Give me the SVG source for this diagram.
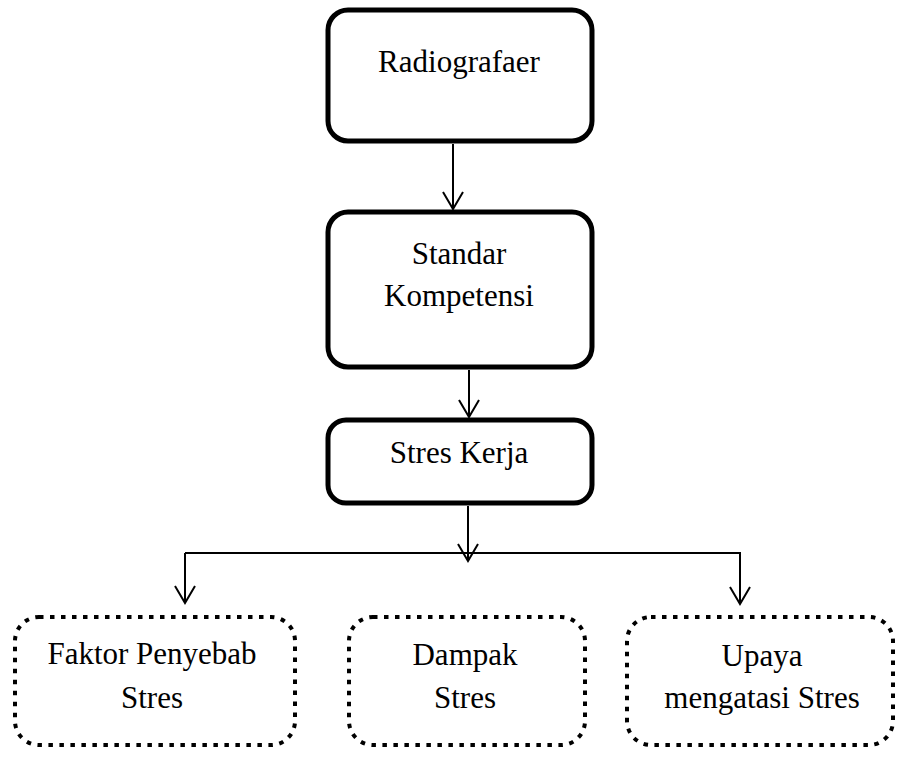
<svg xmlns="http://www.w3.org/2000/svg" width="897" height="757" viewBox="0 0 897 757">
<style>
  .solid { fill: #fff; stroke: #000; stroke-width: 5; }
  .dotted { fill: #fff; stroke: #000; stroke-width: 4; stroke-dasharray: 4.5 6.5; }
  .lbl { font-family: "Liberation Serif", "Times New Roman", serif; font-size: 31px; fill: #000; text-anchor: middle; }
  .conn { fill: none; stroke: #000; stroke-width: 2; }
</style>
<defs>
  <marker id="arr" markerUnits="userSpaceOnUse" viewBox="-20 -12 24 24" markerWidth="24" markerHeight="24" refX="0" refY="0" orient="auto" overflow="visible">
    <path d="M-17,-10 L0,0 L-17,10" fill="none" stroke="#000" stroke-width="2"/>
  </marker>
</defs>
<rect width="897" height="757" fill="#fff"/>
<g id="connectors">
  <path class="conn" d="M453,144 L453,209" marker-end="url(#arr)"/>
  <path class="conn" d="M469,370 L469,417" marker-end="url(#arr)"/>
  <path class="conn" d="M468,506 L468,561" marker-end="url(#arr)"/>
  <path class="conn" d="M185,553 L740,553 L740,604" marker-end="url(#arr)"/>
  <path class="conn" d="M185,553 L185,603" marker-end="url(#arr)"/>
</g>
<g id="radiografaer">
  <rect class="solid" x="328" y="10" width="264" height="131" rx="20"/>
  <text class="lbl" x="459" y="72">Radiografaer</text>
</g>
<g id="standar-kompetensi">
  <rect class="solid" x="328" y="212" width="264" height="155" rx="20"/>
  <text class="lbl" x="459" y="264">Standar</text>
  <text class="lbl" x="459" y="306">Kompetensi</text>
</g>
<g id="stres-kerja">
  <rect class="solid" x="328" y="420" width="264" height="83" rx="18"/>
  <text class="lbl" x="459" y="463">Stres Kerja</text>
</g>
<g id="faktor-penyebab">
  <rect class="dotted" x="15" y="617" width="280" height="128" rx="24"/>
  <text class="lbl" x="152" y="664">Faktor Penyebab</text>
  <text class="lbl" x="152" y="708">Stres</text>
</g>
<g id="dampak">
  <rect class="dotted" x="349" y="617" width="236" height="128" rx="24"/>
  <text class="lbl" x="465" y="665">Dampak</text>
  <text class="lbl" x="465" y="708">Stres</text>
</g>
<g id="upaya">
  <rect class="dotted" x="627" y="617" width="266" height="128" rx="24"/>
  <text class="lbl" x="762" y="666">Upaya</text>
  <text class="lbl" x="762" y="708">mengatasi Stres</text>
</g>
</svg>
